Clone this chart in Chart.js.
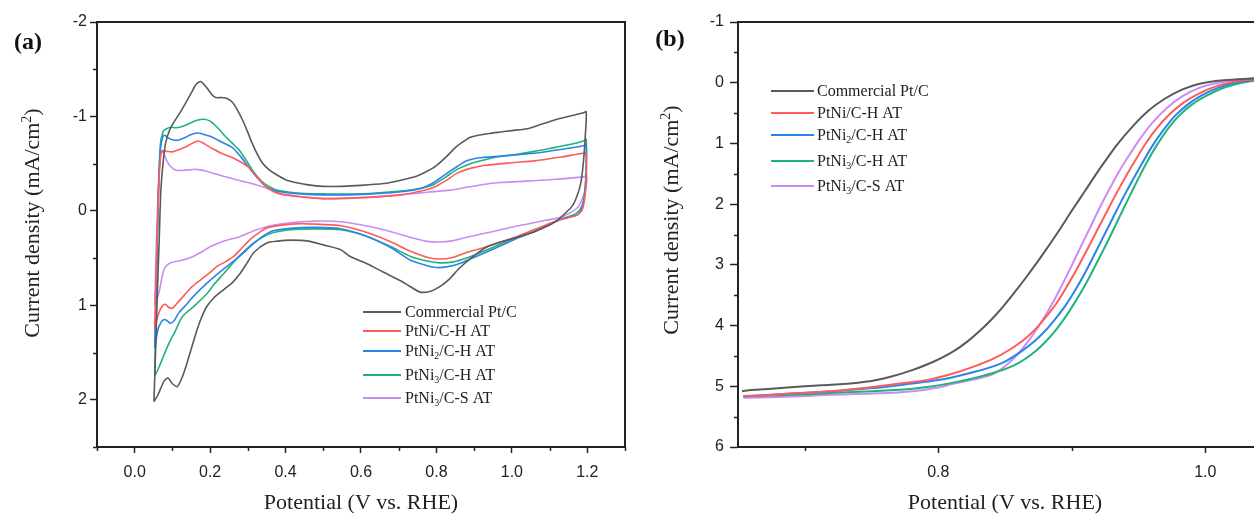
<!DOCTYPE html>
<html>
<head>
<meta charset="utf-8">
<script src="https://cdn.jsdelivr.net/npm/chart.js@4.4.1/dist/chart.umd.min.js"></script>
<style>
  html, body { margin: 0; padding: 0; background: #fff; overflow: hidden; width: 1254px; height: 514px; }
  #wrapA { position: absolute; left: 0; top: 0; width: 640px; height: 514px; }
  #wrapB { position: absolute; left: 626px; top: 0; width: 660px; height: 514px; }
  canvas { display: block; }
</style>
</head>
<body>
<div id="wrapA"><canvas id="cvChart" width="640" height="514"></canvas></div>
<div id="wrapB"><canvas id="lsvChart" width="660" height="514"></canvas></div>
<script>
// ---- series labels ----
const seriesLabels = ['Commercial Pt/C', 'PtNi/C-H AT', 'PtNi\u2082/C-H AT', 'PtNi\u2083/C-H AT', 'PtNi\u2083/C-S AT'];
const seriesColors = ['#5a5a5a', '#ff5b5b', '#2b84e8', '#1fb37a', '#c98cf2'];

// ---- (a) cyclic voltammograms: [potential V, current density mA/cm2] ----
const cvCommercial = [
  [0.051, 2.02], [0.056, 1.4], [0.060, 0.87], [0.065, 0.3], [0.069, -0.19], [0.075, -0.5], [0.082, -0.72],
  [0.093, -0.86], [0.104, -0.94], [0.12, -1.04], [0.136, -1.15], [0.150, -1.25], [0.163, -1.34], [0.175, -1.37],
  [0.19, -1.31], [0.205, -1.23], [0.215, -1.20], [0.23, -1.20], [0.245, -1.19], [0.259, -1.15], [0.272, -1.07],
  [0.285, -0.97], [0.298, -0.85], [0.311, -0.72], [0.325, -0.60], [0.338, -0.51], [0.355, -0.44], [0.373, -0.39],
  [0.40, -0.33], [0.426, -0.30], [0.46, -0.275], [0.50, -0.26], [0.55, -0.26], [0.60, -0.27], [0.66, -0.29],
  [0.70, -0.32], [0.749, -0.37], [0.775, -0.42], [0.80, -0.48], [0.828, -0.58], [0.85, -0.67], [0.87, -0.73],
  [0.89, -0.78], [0.91, -0.80], [0.94, -0.82], [0.97, -0.835], [1.0, -0.85], [1.04, -0.87], [1.08, -0.92],
  [1.12, -0.97], [1.16, -1.01], [1.19, -1.04], [1.197, -1.05],
  [1.196, -0.88], [1.19, -0.53], [1.183, -0.3], [1.173, -0.16], [1.16, -0.05], [1.14, 0.03], [1.12, 0.1],
  [1.10, 0.15], [1.06, 0.22], [1.014, 0.28], [0.97, 0.33], [0.93, 0.39], [0.895, 0.49], [0.86, 0.61],
  [0.835, 0.72], [0.81, 0.8], [0.785, 0.85], [0.757, 0.86], [0.73, 0.80], [0.705, 0.74], [0.66, 0.65],
  [0.616, 0.56], [0.57, 0.48], [0.546, 0.41], [0.50, 0.36], [0.46, 0.32], [0.413, 0.31], [0.38, 0.32],
  [0.35, 0.34], [0.316, 0.44], [0.298, 0.55], [0.28, 0.66], [0.259, 0.76], [0.237, 0.83], [0.21, 0.92],
  [0.19, 1.02], [0.175, 1.15], [0.162, 1.3], [0.15, 1.46], [0.138, 1.62], [0.126, 1.76], [0.113, 1.86],
  [0.10, 1.83], [0.088, 1.77], [0.078, 1.8], [0.069, 1.88], [0.06, 1.96], [0.051, 2.02]
];
const cvPtNi = [
  [0.053, 1.25], [0.058, 0.5], [0.063, -0.2], [0.068, -0.55], [0.073, -0.635], [0.085, -0.63], [0.10, -0.625],
  [0.118, -0.65], [0.136, -0.68], [0.155, -0.72], [0.169, -0.74], [0.185, -0.71], [0.206, -0.66], [0.23, -0.61],
  [0.259, -0.565], [0.28, -0.52], [0.30, -0.47], [0.325, -0.36], [0.347, -0.26], [0.37, -0.20], [0.39, -0.175],
  [0.44, -0.15], [0.50, -0.13], [0.60, -0.14], [0.705, -0.17], [0.76, -0.21], [0.793, -0.25], [0.825, -0.32],
  [0.855, -0.40], [0.89, -0.45], [0.925, -0.48], [1.0, -0.51], [1.06, -0.53], [1.13, -0.57], [1.19, -0.61],
  [1.197, -0.6],
  [1.197, -0.3], [1.192, -0.1], [1.185, 0.0], [1.17, 0.05], [1.15, 0.07], [1.128, 0.09], [1.09, 0.15],
  [1.058, 0.2], [1.014, 0.27], [0.97, 0.33], [0.925, 0.39], [0.88, 0.44], [0.845, 0.49], [0.81, 0.51],
  [0.775, 0.49], [0.73, 0.425], [0.68, 0.33], [0.616, 0.23], [0.55, 0.16], [0.48, 0.14], [0.413, 0.14],
  [0.35, 0.18], [0.33, 0.23], [0.307, 0.30], [0.285, 0.39], [0.263, 0.48], [0.24, 0.54], [0.219, 0.585],
  [0.2, 0.65], [0.175, 0.73], [0.15, 0.81], [0.13, 0.90], [0.112, 0.98], [0.10, 1.03], [0.09, 1.02],
  [0.082, 0.99], [0.075, 1.0], [0.068, 1.04], [0.06, 1.13], [0.053, 1.25]
];
const cvPtNi2 = [
  [0.053, 1.45], [0.058, 0.6], [0.063, -0.2], [0.068, -0.65], [0.075, -0.79], [0.08, -0.8], [0.09, -0.77],
  [0.103, -0.75], [0.117, -0.75], [0.135, -0.78], [0.15, -0.81], [0.17, -0.825], [0.19, -0.8], [0.206, -0.78],
  [0.23, -0.73], [0.259, -0.67], [0.28, -0.58], [0.30, -0.475], [0.325, -0.35], [0.347, -0.26], [0.37, -0.215],
  [0.39, -0.20], [0.44, -0.18], [0.50, -0.17], [0.60, -0.175], [0.70, -0.2], [0.76, -0.24], [0.793, -0.30],
  [0.825, -0.39], [0.855, -0.47], [0.88, -0.53], [0.91, -0.56], [0.97, -0.58], [1.06, -0.61], [1.13, -0.65],
  [1.19, -0.69], [1.197, -0.705],
  [1.197, -0.4], [1.193, -0.15], [1.185, -0.03], [1.175, 0.04], [1.16, 0.06], [1.128, 0.095], [1.09, 0.16],
  [1.058, 0.22], [1.014, 0.29], [0.97, 0.37], [0.93, 0.44], [0.89, 0.51], [0.86, 0.56], [0.83, 0.59],
  [0.80, 0.60], [0.775, 0.58], [0.73, 0.52], [0.68, 0.39], [0.616, 0.27], [0.546, 0.19], [0.48, 0.175],
  [0.413, 0.185], [0.36, 0.22], [0.316, 0.34], [0.29, 0.44], [0.263, 0.53], [0.228, 0.64], [0.193, 0.76],
  [0.157, 0.90], [0.135, 1.0], [0.117, 1.08], [0.105, 1.16], [0.095, 1.19], [0.085, 1.16], [0.078, 1.15],
  [0.07, 1.18], [0.062, 1.25], [0.053, 1.45]
];
const cvPtNi3 = [
  [0.053, 1.75], [0.058, 0.7], [0.063, -0.2], [0.068, -0.7], [0.075, -0.84], [0.082, -0.865], [0.095, -0.885],
  [0.11, -0.88], [0.13, -0.9], [0.15, -0.935], [0.165, -0.96], [0.184, -0.97], [0.2, -0.95], [0.22, -0.88],
  [0.24, -0.79], [0.258, -0.72], [0.276, -0.65], [0.295, -0.54], [0.311, -0.44], [0.33, -0.34], [0.347, -0.28],
  [0.37, -0.23], [0.39, -0.21], [0.44, -0.186], [0.50, -0.18], [0.60, -0.18], [0.705, -0.21], [0.76, -0.24],
  [0.793, -0.28], [0.825, -0.36], [0.855, -0.44], [0.89, -0.50], [0.917, -0.53], [0.96, -0.57], [1.014, -0.60],
  [1.06, -0.63], [1.10, -0.66], [1.15, -0.70], [1.19, -0.74], [1.197, -0.76],
  [1.197, -0.45], [1.193, -0.2], [1.186, -0.05], [1.17, 0.03], [1.15, 0.06], [1.128, 0.09], [1.09, 0.16],
  [1.058, 0.22], [1.014, 0.28], [0.97, 0.35], [0.93, 0.42], [0.88, 0.50], [0.845, 0.54], [0.81, 0.55],
  [0.775, 0.53], [0.73, 0.48], [0.68, 0.38], [0.616, 0.27], [0.546, 0.20], [0.48, 0.19], [0.413, 0.2],
  [0.36, 0.24], [0.316, 0.34], [0.272, 0.50], [0.237, 0.66], [0.21, 0.78], [0.193, 0.87], [0.16, 1.0],
  [0.126, 1.12], [0.108, 1.27], [0.091, 1.40], [0.075, 1.55], [0.065, 1.65], [0.053, 1.75]
];
const cvPtNi3S = [
  [0.053, 1.0], [0.057, 0.4], [0.062, -0.2], [0.067, -0.55], [0.072, -0.64], [0.078, -0.6], [0.085, -0.53],
  [0.095, -0.47], [0.11, -0.43], [0.13, -0.43], [0.163, -0.44], [0.19, -0.42], [0.215, -0.39], [0.26, -0.34],
  [0.30, -0.30], [0.35, -0.24], [0.39, -0.18], [0.44, -0.15], [0.50, -0.13], [0.60, -0.14], [0.705, -0.17],
  [0.78, -0.20], [0.837, -0.22], [0.88, -0.25], [0.925, -0.28], [0.97, -0.30], [1.014, -0.31], [1.1, -0.33],
  [1.19, -0.36], [1.198, -0.375],
  [1.197, -0.26], [1.19, -0.16], [1.18, -0.07], [1.17, -0.02], [1.15, 0.03], [1.128, 0.07], [1.09, 0.10],
  [1.058, 0.125], [1.014, 0.16], [0.97, 0.20], [0.925, 0.24], [0.88, 0.28], [0.845, 0.315], [0.81, 0.33],
  [0.77, 0.32], [0.73, 0.28], [0.68, 0.22], [0.616, 0.16], [0.546, 0.115], [0.48, 0.108], [0.413, 0.125],
  [0.37, 0.15], [0.325, 0.196], [0.28, 0.27], [0.237, 0.32], [0.2, 0.38], [0.175, 0.44], [0.15, 0.49],
  [0.122, 0.525], [0.095, 0.55], [0.08, 0.6], [0.073, 0.69], [0.064, 0.87], [0.053, 1.0]
];

// ---- (b) linear sweep voltammograms: [potential V, current density mA/cm2] ----
const lsvCommercial = [
  [0.653, 5.08], [0.66, 5.06], [0.675, 5.04], [0.70, 5.0], [0.72, 4.975], [0.74, 4.94], [0.751, 4.91],
  [0.765, 4.84], [0.781, 4.73], [0.796, 4.6], [0.811, 4.43], [0.822, 4.26], [0.832, 4.07], [0.842, 3.85],
  [0.85, 3.65], [0.858, 3.43], [0.866, 3.2], [0.874, 2.96], [0.881, 2.74], [0.89, 2.45], [0.90, 2.11],
  [0.91, 1.78], [0.919, 1.48], [0.927, 1.23], [0.934, 1.02], [0.946, 0.71], [0.958, 0.45], [0.97, 0.26],
  [0.983, 0.11], [0.995, 0.02], [1.008, -0.03], [1.02, -0.05], [1.035, -0.07], [1.05, -0.08]
];
const lsvPtNi = [
  [0.654, 5.16], [0.67, 5.15], [0.69, 5.12], [0.72, 5.08], [0.751, 5.01], [0.77, 4.96], [0.793, 4.89],
  [0.811, 4.79], [0.826, 4.68], [0.841, 4.55], [0.854, 4.39], [0.866, 4.20], [0.874, 4.03], [0.881, 3.85],
  [0.889, 3.62], [0.896, 3.37], [0.904, 3.06], [0.912, 2.73], [0.92, 2.39], [0.928, 2.05], [0.936, 1.72],
  [0.944, 1.41], [0.95, 1.19], [0.956, 0.98], [0.963, 0.77], [0.971, 0.57], [0.983, 0.34], [0.996, 0.17],
  [1.008, 0.06], [1.02, -0.01], [1.035, -0.05], [1.05, -0.07]
];
const lsvPtNi2 = [
  [0.654, 5.17], [0.69, 5.12], [0.72, 5.08], [0.751, 5.03], [0.775, 4.97], [0.796, 4.91], [0.811, 4.85],
  [0.826, 4.77], [0.84, 4.68], [0.851, 4.58], [0.862, 4.43], [0.872, 4.26], [0.88, 4.09], [0.887, 3.91],
  [0.895, 3.68], [0.902, 3.44], [0.91, 3.13], [0.917, 2.83], [0.925, 2.48], [0.933, 2.13], [0.941, 1.79],
  [0.949, 1.47], [0.955, 1.24], [0.961, 1.02], [0.969, 0.77], [0.978, 0.53], [0.988, 0.34], [0.998, 0.2],
  [1.01, 0.08], [1.022, 0.0], [1.035, -0.04], [1.05, -0.07]
];
const lsvPtNi3 = [
  [0.654, 5.16], [0.69, 5.14], [0.72, 5.11], [0.751, 5.08], [0.781, 5.04], [0.796, 5.0], [0.811, 4.94],
  [0.826, 4.87], [0.841, 4.78], [0.851, 4.71], [0.86, 4.62], [0.869, 4.49], [0.878, 4.32], [0.886, 4.13],
  [0.893, 3.93], [0.9, 3.7], [0.908, 3.41], [0.914, 3.17], [0.921, 2.87], [0.929, 2.52], [0.936, 2.2],
  [0.944, 1.84], [0.951, 1.53], [0.957, 1.28], [0.964, 1.02], [0.972, 0.76], [0.98, 0.55], [0.99, 0.36],
  [1.0, 0.225], [1.012, 0.1], [1.022, 0.03], [1.033, -0.02], [1.05, -0.06]
];
const lsvPtNi3S = [
  [0.654, 5.19], [0.69, 5.17], [0.72, 5.14], [0.751, 5.12], [0.781, 5.08], [0.80, 5.02], [0.811, 4.96],
  [0.826, 4.89], [0.841, 4.80], [0.85, 4.67], [0.86, 4.46], [0.868, 4.24], [0.875, 4.02], [0.882, 3.77],
  [0.89, 3.45], [0.898, 3.1], [0.905, 2.78], [0.913, 2.42], [0.92, 2.1], [0.928, 1.76], [0.936, 1.44],
  [0.944, 1.16], [0.951, 0.93], [0.96, 0.67], [0.971, 0.42], [0.983, 0.22], [0.996, 0.08], [1.01, 0.0],
  [1.023, -0.05], [1.037, -0.07], [1.05, -0.08]
];

// ---- axis text ----
const xTitle = 'Potential (V vs. RHE)';
const yTitle = 'Current density (mA/cm\u00b2)';
const panelTags = ['(a)', '(b)'];

// ---- helpers ----
const INK = '#222';
const SERIF = '"Liberation Serif", "Times New Roman", serif';
const SANS = '"Liberation Sans", Arial, sans-serif';
const SUBS = { '\u2080': '0', '\u2081': '1', '\u2082': '2', '\u2083': '3', '\u2084': '4' };
const SUPS = { '\u00b2': '2', '\u00b3': '3' };

function toPoints(arr) { return arr.map(([x, y]) => ({ x, y })); }
function nearInt(v, k) { const s = v * k; return Math.abs(s - Math.round(s)) < 1e-6; }

// splits text into normal / subscript / superscript runs
function runs(text) {
  const out = [];
  for (const ch of text) {
    let kind = 'n', c = ch;
    if (SUBS[ch]) { kind = 'sub'; c = SUBS[ch]; }
    else if (SUPS[ch]) { kind = 'sup'; c = SUPS[ch]; }
    const last = out[out.length - 1];
    if (last && last.kind === kind) last.t += c; else out.push({ kind, t: c });
  }
  return out;
}
function richWidth(ctx, text, size) {
  let w = 0;
  for (const r of runs(text)) {
    ctx.font = (r.kind === 'n' ? size : Math.round(size * 0.65)) + 'px ' + SERIF;
    w += ctx.measureText(r.t).width;
  }
  return w;
}
function drawRich(ctx, text, x, y, size) {
  let cx = x;
  for (const r of runs(text)) {
    const small = Math.round(size * 0.65);
    ctx.font = (r.kind === 'n' ? size : small) + 'px ' + SERIF;
    const dy = r.kind === 'sub' ? size * 0.28 : (r.kind === 'sup' ? -size * 0.24 : 0);
    ctx.fillText(r.t, cx, y + dy);
    cx += ctx.measureText(r.t).width;
  }
}

function makeDatasets(arrays, width, tension, mode) {
  return arrays.map((arr, i) => ({
    label: seriesLabels[i],
    data: toPoints(arr),
    borderColor: seriesColors[i],
    backgroundColor: seriesColors[i],
    borderWidth: width,
    pointRadius: 0,
    showLine: true,
    fill: false,
    tension: tension,
    cubicInterpolationMode: mode
  }));
}

// frame, minor ticks, rotated y title, legend and panel tag
function decor(cfg) {
  return {
    id: 'decor' + cfg.tag,
    afterDraw(chart) {
      const ctx = chart.ctx, a = chart.chartArea;
      const xs = chart.scales.x, ys = chart.scales.y;
      ctx.save();
      ctx.strokeStyle = INK;
      ctx.lineWidth = 2;
      ctx.beginPath();
      ctx.moveTo(a.left - 1, a.top);
      ctx.lineTo(a.right, a.top);
      ctx.lineTo(a.right, a.bottom + 1);
      ctx.stroke();

      ctx.lineWidth = 1.5;
      ctx.beginPath();
      xs.ticks.forEach(t => {
        if (cfg.xMinor(t.value)) {
          const px = Math.round(xs.getPixelForValue(t.value)) + 0.5;
          ctx.moveTo(px, a.bottom); ctx.lineTo(px, a.bottom + cfg.minorLen);
        }
      });
      ys.ticks.forEach(t => {
        if (cfg.yMinor(t.value)) {
          const py = Math.round(ys.getPixelForValue(t.value)) + 0.5;
          ctx.moveTo(a.left, py); ctx.lineTo(a.left - cfg.minorLen, py);
        }
      });
      ctx.stroke();

      // y axis title
      ctx.fillStyle = INK;
      ctx.textBaseline = 'middle';
      ctx.textAlign = 'left';
      const tw = richWidth(ctx, yTitle, 22);
      ctx.save();
      ctx.translate(cfg.yTitleX, cfg.yTitleY);
      ctx.rotate(-Math.PI / 2);
      drawRich(ctx, yTitle, -tw / 2, 0, 22);
      ctx.restore();

      // legend
      chart.data.datasets.forEach((ds, i) => {
        const y = cfg.legendY[i];
        ctx.strokeStyle = ds.borderColor;
        ctx.lineWidth = 2;
        ctx.beginPath();
        ctx.moveTo(cfg.legendX1, y); ctx.lineTo(cfg.legendX2, y);
        ctx.stroke();
        ctx.fillStyle = INK;
        drawRich(ctx, ds.label, cfg.legendTextX, y + 1, 16);
      });

      // panel tag
      ctx.font = 'bold 24px ' + SERIF;
      ctx.textAlign = 'center';
      ctx.fillStyle = '#111';
      ctx.fillText(cfg.tag, cfg.tagX, cfg.tagY);
      ctx.restore();
    }
  };
}

function baseScales(o) {
  return {
    x: {
      type: 'linear', min: o.xMin, max: o.xMax,
      afterFit: s => { s.height = 67; },
      border: { display: true, color: INK, width: 2 },
      grid: {
        drawOnChartArea: false, drawTicks: true, tickLength: 6, tickWidth: 1.5,
        tickColor: c => (c.tick && o.xMajor(c.tick.value)) ? INK : 'rgba(0,0,0,0)'
      },
      ticks: {
        stepSize: o.xStep, autoSkip: false, maxRotation: 0, includeBounds: false,
        padding: 10, color: INK, font: { family: SANS, size: 16 },
        callback: v => o.xMajor(v) ? (Math.abs(v) < 1e-9 ? 0 : Math.round(v * 10) / 10).toFixed(1) : ''
      },
      title: { display: true, text: xTitle, color: INK, font: { family: SERIF, size: 22, lineHeight: 1.0 }, padding: { top: 0, bottom: 0 } }
    },
    y: {
      type: 'linear', min: o.yMin, max: o.yMax, reverse: true,
      afterFit: s => { s.width = o.yWidth; },
      border: { display: true, color: INK, width: 2 },
      grid: {
        drawOnChartArea: false, drawTicks: true, tickLength: o.yTick, tickWidth: 1.5,
        tickColor: c => (c.tick && nearInt(c.tick.value, 1)) ? INK : 'rgba(0,0,0,0)'
      },
      ticks: {
        stepSize: 0.5, autoSkip: false, includeBounds: false,
        padding: o.yPad, color: INK, font: { family: SANS, size: 16 },
        callback: v => nearInt(v, 1) ? String(Math.round(v)) : ''
      }
    }
  };
}

// ---- panel (a): CV ----
const aXMajor = v => nearInt(v, 5) && v > -0.05 && v < 1.25;
new Chart(document.getElementById('cvChart'), {
  type: 'scatter',
  data: { datasets: makeDatasets([cvCommercial, cvPtNi, cvPtNi2, cvPtNi3, cvPtNi3S], 1.6, 0.25, 'default') },
  options: {
    responsive: false, animation: false, events: [],
    layout: { padding: { left: 0, right: 15, top: 22, bottom: 0 } },
    plugins: { legend: { display: false }, tooltip: { enabled: false } },
    scales: baseScales({ xMin: -0.1, xMax: 1.3, xStep: 0.1, xMajor: aXMajor, yMin: -2, yMax: 2.5, yWidth: 97, yTick: 7, yPad: 3 })
  },
  plugins: [decor({
    tag: panelTags[0], tagX: 28, tagY: 43,
    xMinor: v => !aXMajor(v), yMinor: v => !nearInt(v, 1), minorLen: 4,
    yTitleX: 33, yTitleY: 223,
    legendX1: 363, legendX2: 401, legendTextX: 405, legendY: [312, 331, 351, 375, 398]
  })]
});

// ---- panel (b): LSV ----
const bXMajor = v => Math.abs(v - 0.8) < 1e-6 || Math.abs(v - 1.0) < 1e-6;
const bXMinor = v => Math.abs(v - 0.7) < 1e-6 || Math.abs(v - 0.9) < 1e-6;
new Chart(document.getElementById('lsvChart'), {
  type: 'scatter',
  data: { datasets: makeDatasets([lsvCommercial, lsvPtNi, lsvPtNi2, lsvPtNi3, lsvPtNi3S], 2, 0.4, 'monotone') },
  options: {
    responsive: false, animation: false, events: [],
    layout: { padding: { left: 0, right: 14, top: 22, bottom: 0 } },
    plugins: { legend: { display: false }, tooltip: { enabled: false } },
    scales: baseScales({ xMin: 0.65, xMax: 1.05, xStep: 0.05, xMajor: bXMajor, yMin: -1, yMax: 6, yWidth: 112, yTick: 8, yPad: 6 })
  },
  plugins: [decor({
    tag: panelTags[1], tagX: 44, tagY: 40,
    xMinor: bXMinor, yMinor: v => !nearInt(v, 1), minorLen: 4,
    yTitleX: 46, yTitleY: 220,
    legendX1: 145, legendX2: 188, legendTextX: 191, legendY: [91, 113, 135, 161, 186]
  })]
});
</script>
</body>
</html>
